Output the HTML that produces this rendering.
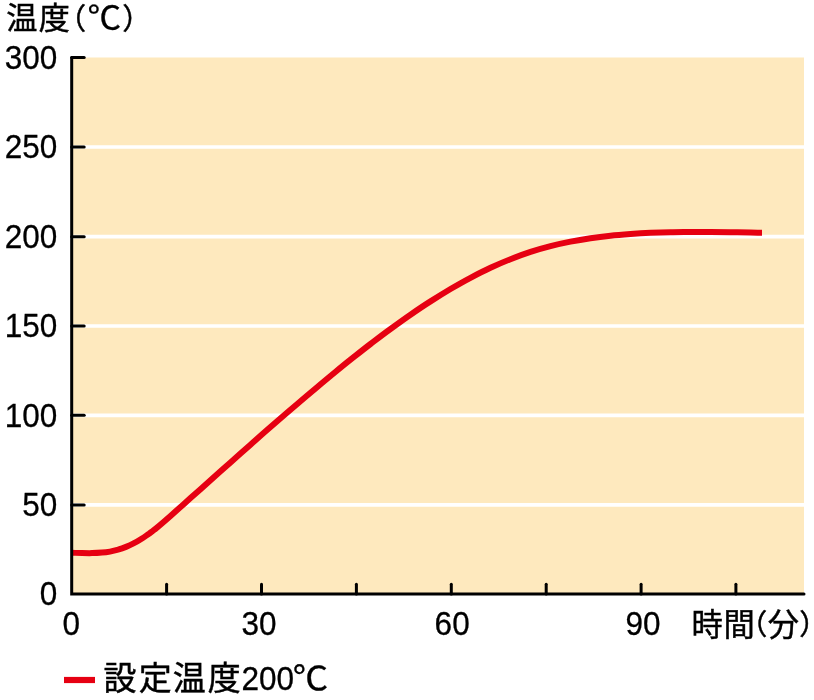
<!DOCTYPE html>
<html lang="ja">
<head>
<meta charset="utf-8">
<title>設定温度200℃</title>
<style>
html,body{margin:0;padding:0;background:#fff;}
body{width:814px;height:700px;overflow:hidden;}
svg{display:block;}
.num{font-family:"Liberation Sans",sans-serif;font-size:33.2px;fill:#000;stroke:#000;stroke-width:0.3px;}
.jp{font-family:"Liberation Sans","Noto Sans CJK JP",sans-serif;fill:#000;stroke:#000;stroke-width:0.45px;}
.deg{font-family:"Noto Sans CJK JP","Liberation Sans",sans-serif;fill:#000;stroke:#000;stroke-width:0.3px;}
</style>
</head>
<body>
<svg width="814" height="700" viewBox="0 0 814 700">
  <rect x="0" y="0" width="814" height="700" fill="#ffffff"/>
  <!-- plot area -->
  <rect x="71.7" y="57.5" width="732.3" height="536.5" fill="#fee9be"/>
  <!-- grid lines -->
  <g stroke="#ffffff" stroke-width="3.7" fill="none">
    <line x1="71.7" y1="147.0" x2="804" y2="147.0"/>
    <line x1="71.7" y1="236.7" x2="804" y2="236.7"/>
    <line x1="71.7" y1="326.0" x2="804" y2="326.0"/>
    <line x1="71.7" y1="415.3" x2="804" y2="415.3"/>
    <line x1="71.7" y1="504.9" x2="804" y2="504.9"/>
  </g>
  <!-- curve -->
  <path fill="none" stroke="#e60012" stroke-width="6" stroke-linejoin="round"
    d="M71.7,552.8 C73.4,552.8 78.6,553.0 82.0,553.0 C85.4,553.1 88.7,553.2 92.0,553.1 C95.3,553.1 99.0,552.9 102.0,552.6 C105.0,552.4 107.3,552.1 110.0,551.6 C112.7,551.1 115.3,550.4 118.0,549.7 C120.7,548.9 123.3,548.0 126.0,546.9 C128.7,545.8 131.3,544.6 134.0,543.2 C136.7,541.8 139.5,540.1 142.0,538.5 C144.5,536.9 146.9,535.1 149.0,533.7 C151.1,532.2 153.6,530.4 154.5,529.7 L154.5,529.7 C157.2,527.4 164.5,521.2 170.5,515.9 C176.5,510.6 183.8,504.0 190.5,498.1 C197.2,492.1 203.8,486.2 210.5,480.2 C217.2,474.3 223.8,468.3 230.5,462.4 C237.2,456.5 243.8,450.6 250.5,444.7 C257.2,438.8 263.8,432.9 270.5,427.1 C277.2,421.3 283.8,415.5 290.5,409.8 C297.2,404.0 303.8,398.3 310.5,392.7 C317.2,387.1 323.8,381.5 330.5,376.0 C337.2,370.5 343.8,365.0 350.5,359.7 C357.2,354.4 363.8,349.1 370.5,344.0 C377.2,338.9 383.8,333.8 390.5,329.0 C397.2,324.1 403.8,319.3 410.5,314.7 C417.2,310.1 423.8,305.6 430.5,301.4 C437.2,297.1 443.8,293.0 450.5,289.0 C457.2,285.1 463.8,281.3 470.5,277.8 C477.2,274.3 483.8,270.9 490.5,267.8 C497.2,264.7 503.8,261.8 510.5,259.2 C517.2,256.5 523.8,254.1 530.5,251.9 C537.2,249.7 543.8,247.8 550.5,246.1 C557.2,244.4 563.8,242.9 570.5,241.6 C577.2,240.3 583.8,239.2 590.5,238.2 C597.2,237.2 603.8,236.4 610.5,235.7 C617.2,235.0 623.8,234.5 630.5,234.0 C637.2,233.5 643.8,233.1 650.5,232.8 C657.2,232.5 663.8,232.3 670.5,232.2 C677.2,232.0 683.8,232.0 690.5,231.9 C697.2,231.9 703.8,231.9 710.5,232.0 C717.2,232.0 723.8,232.1 730.5,232.2 C737.2,232.3 745.2,232.4 750.5,232.5 C755.8,232.6 760.1,232.8 762.0,232.8"/>
  <!-- axes -->
  <g stroke="#000" stroke-width="3" fill="none" stroke-linecap="round">
    <path d="M71.7,57.5 V594 H804" stroke-linejoin="miter"/>
    <line x1="71.7" y1="57.5" x2="84.2" y2="57.5"/>
    <line x1="71.7" y1="147.0" x2="84.2" y2="147.0"/>
    <line x1="71.7" y1="236.7" x2="84.2" y2="236.7"/>
    <line x1="71.7" y1="326.0" x2="84.2" y2="326.0"/>
    <line x1="71.7" y1="415.3" x2="84.2" y2="415.3"/>
    <line x1="71.7" y1="504.9" x2="84.2" y2="504.9"/>
    <line x1="166.6" y1="594" x2="166.6" y2="584.3"/>
    <line x1="261.5" y1="594" x2="261.5" y2="584.3"/>
    <line x1="356.4" y1="594" x2="356.4" y2="584.3"/>
    <line x1="451.3" y1="594" x2="451.3" y2="584.3"/>
    <line x1="546.2" y1="594" x2="546.2" y2="584.3"/>
    <line x1="641.1" y1="594" x2="641.1" y2="584.3"/>
    <line x1="735.9" y1="594" x2="735.9" y2="584.3"/>
  </g>
  <!-- y labels -->
  <text class="num" transform="translate(57.4,68.9) scale(0.95,1)" text-anchor="end">300</text>
  <text class="num" transform="translate(57.4,158.4) scale(0.95,1)" text-anchor="end">250</text>
  <text class="num" transform="translate(57.4,248.1) scale(0.95,1)" text-anchor="end">200</text>
  <text class="num" transform="translate(57.4,337.4) scale(0.95,1)" text-anchor="end">150</text>
  <text class="num" transform="translate(57.4,426.7) scale(0.95,1)" text-anchor="end">100</text>
  <text class="num" transform="translate(57.4,516.3) scale(0.95,1)" text-anchor="end">50</text>
  <text class="num" transform="translate(57.4,605.4) scale(0.95,1)" text-anchor="end">0</text>
  <!-- x labels -->
  <text class="num" transform="translate(62.6,635) scale(0.95,1)" text-anchor="start">0</text>
  <text class="num" transform="translate(241.4,635) scale(0.95,1)" text-anchor="start">30</text>
  <text class="num" transform="translate(434.6,635) scale(0.95,1)" text-anchor="start">60</text>
  <text class="num" transform="translate(625.4,635) scale(0.95,1)" text-anchor="start">90</text>
  <text class="jp" font-size="31.3" y="635.8"><tspan x="691.4 723.5">時間</tspan><tspan font-size="28.5" x="738.8" y="634.8">（</tspan><tspan x="767.8" y="635.8">分</tspan><tspan font-size="28.5" x="799.2" y="634.8">）</tspan></text>
  <text class="jp" font-size="31.2" y="29.4"><tspan x="6.15 38.7">温度</tspan><tspan font-size="29.4" x="56.7" y="28.9">（</tspan><tspan class="deg" font-size="31.5" x="87.4" y="29" textLength="33.7" lengthAdjust="spacingAndGlyphs">℃</tspan><tspan font-size="29.4" x="122.2" y="28.9">）</tspan></text>
  <!-- legend -->
  <line x1="64" y1="680" x2="95" y2="680" stroke="#e60012" stroke-width="6.2"/>
  <text class="jp" font-size="33" y="690.4"><tspan x="103.4 138.8 172.8 207.8">設定温度</tspan><tspan class="num" x="241.4" y="689.7" textLength="52.6" lengthAdjust="spacingAndGlyphs">200</tspan><tspan class="deg" font-size="33.5" x="292.8" y="690.3" textLength="35.4" lengthAdjust="spacingAndGlyphs">℃</tspan></text>
</svg>
</body>
</html>
